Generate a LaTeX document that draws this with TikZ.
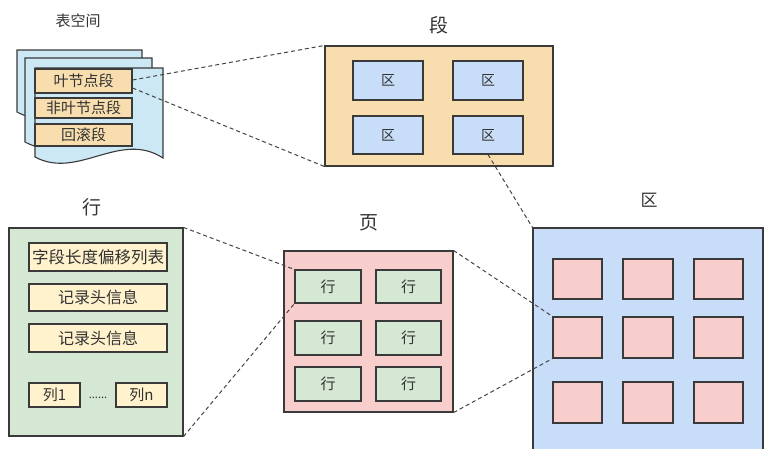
\documentclass[tikz,border=0pt]{standalone}
\usepackage{fontspec}
\setmainfont{Noto Sans CJK SC}
\usetikzlibrary{calc}
\definecolor{edge}{HTML}{3A3A3A}
\definecolor{txt}{HTML}{333333}
\definecolor{dashc}{HTML}{444444}
\definecolor{sheet}{HTML}{CCE8F4}
\definecolor{orng}{HTML}{F8DEAE}
\definecolor{blu}{HTML}{C8DDF7}
\definecolor{grn}{HTML}{D5E8D4}
\definecolor{ylw}{HTML}{FFF2CC}
\definecolor{pnk}{HTML}{F8CECC}
\newcommand{\fsz}[1]{\fontsize{#1}{#1}\selectfont}
\begin{document}
\begin{tikzpicture}[x=1pt,y=-1pt,
  bx/.style={draw=edge, line width=1.1pt, inner sep=0pt, text=txt},
  dl/.style={draw=dashc, line width=1pt, dash pattern=on 4pt off 3pt},
  lbl/.style={text=txt, inner sep=0pt},
  sh/.style={draw=edge, line width=1.1pt, fill=sheet}]
\useasboundingbox (0,0) rectangle (766,448);
\clip (0,0) rectangle (766,448);
\fill[white] (0,0) rectangle (766,448);

% ---------- tablespace ----------
\node[lbl] (tslbl) at (78,21) {\fsz{15}表空间};
\draw[sh] (17,112) -- (17,50) -- (142,50) -- (142,113) .. controls (100,85) and (59,135) .. cycle;
\draw[sh] (25,142) -- (25,58) -- (152,58) -- (152,143) .. controls (110,115) and (67,165) .. cycle;
\draw[sh] (35,157) -- (35,68) -- (163,68) -- (163,158) .. controls (120,130) and (78,180) .. cycle;
\node[bx, fill=orng, minimum width=97pt, minimum height=24pt] (leaf) at (83.5,81) {\fsz{15}叶节点段};
\node[bx, fill=orng, minimum width=97pt, minimum height=20pt] (nonleaf) at (83.5,108) {\fsz{15}非叶节点段};
\node[bx, fill=orng, minimum width=97pt, minimum height=22pt] (rollback) at (83.5,135) {\fsz{15}回滚段};

% ---------- segment ----------
\node[lbl] (seglbl) at (439,25) {\fsz{19}段};
\node[bx, fill=orng, minimum width=228pt, minimum height=120pt] (seg) at (439,106) {};
\node[bx, fill=blu, minimum width=70pt, minimum height=39pt] (z1) at (388,80.5) {\fsz{14}区};
\node[bx, fill=blu, minimum width=70pt, minimum height=39pt] (z2) at (488,80.5) {\fsz{14}区};
\node[bx, fill=blu, minimum width=70pt, minimum height=38pt] (z3) at (388,135) {\fsz{14}区};
\node[bx, fill=blu, minimum width=70pt, minimum height=38pt] (z4) at (488,135) {\fsz{14}区};

% ---------- row ----------
\node[lbl] (rowlbl) at (92,207) {\fsz{19}行};
\node[bx, fill=grn, minimum width=174pt, minimum height=208pt] (row) at (96,332) {};
\node[bx, fill=ylw, minimum width=138pt, minimum height=28pt] (f1) at (98,257) {\fsz{16.5}字段长度偏移列表};
\node[bx, fill=ylw, minimum width=138pt, minimum height=27pt] (f2) at (98,297.5) {\fsz{16}记录头信息};
\node[bx, fill=ylw, minimum width=138pt, minimum height=28pt] (f3) at (98,338) {\fsz{16}记录头信息};
\node[bx, fill=ylw, minimum width=51pt, minimum height=24pt] (c1) at (54.5,395) {\fsz{15}列1};
\node[bx, fill=ylw, minimum width=51pt, minimum height=24pt] (cn) at (141.5,395) {\fsz{15}列n};
\node[lbl] (dots) at (98,398) {\fsz{11}......};

% ---------- page ----------
\node[lbl] (pagelbl) at (369,223) {\fsz{19}页};
\node[bx, fill=pnk, minimum width=169pt, minimum height=161pt] (page) at (368.5,331.5) {};
\node[bx, fill=grn, minimum width=66pt, minimum height=33pt] (r11) at (328,286.5) {\fsz{15}行};
\node[bx, fill=grn, minimum width=65pt, minimum height=33pt] (r12) at (408.5,286.5) {\fsz{15}行};
\node[bx, fill=grn, minimum width=66pt, minimum height=34pt] (r21) at (328,338) {\fsz{15}行};
\node[bx, fill=grn, minimum width=65pt, minimum height=34pt] (r22) at (408.5,338) {\fsz{15}行};
\node[bx, fill=grn, minimum width=66pt, minimum height=34pt] (r31) at (328,384) {\fsz{15}行};
\node[bx, fill=grn, minimum width=65pt, minimum height=34pt] (r32) at (408.5,384) {\fsz{15}行};

% ---------- extent ----------
\node[lbl] (extlbl) at (649,200) {\fsz{17}区};
\node[bx, fill=blu, minimum width=230pt, minimum height=236pt] (ext) at (648,346) {};
\foreach \cx/\w [count=\i] in {577.5/49, 648/50, 718.5/49}{
  \foreach \cy/\h [count=\j] in {279/40, 337.5/41, 402.5/41}{
    \node[bx, fill=pnk, minimum width=\w pt, minimum height=\h pt] (p\j\i) at (\cx,\cy) {};
  }
}

% ---------- connectors ----------
\coordinate (leafA) at ($(leaf.east)+(0,-1)$);
\coordinate (leafB) at ($(leaf.east)+(0,7)$);
\draw[dl] (leafA) -- (seg.north west);
\draw[dl] (leafB) -- (seg.south west);
\draw[dl] (z4.south) -- (ext.north west);
\draw[dl] (row.north east) -- (r11.north west);
\draw[dl] (row.south east) -- (r11.south west);
\draw[dl] (page.north east) -- (p21.north west);
\draw[dl] (page.south east) -- (p21.south west);
\end{tikzpicture}
\end{document}
